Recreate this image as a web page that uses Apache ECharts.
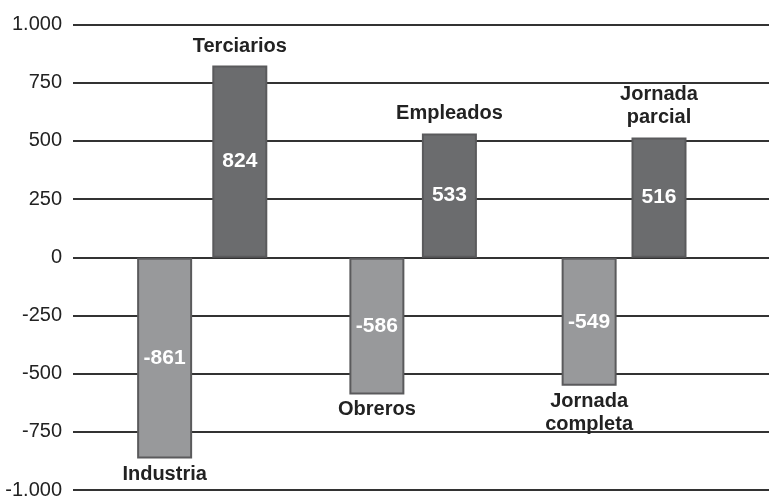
<!DOCTYPE html>
<html>
<head>
<meta charset="utf-8">
<script src="https://cdn.jsdelivr.net/npm/echarts@6/dist/echarts.min.js"></script>
<style>
  html, body { margin: 0; padding: 0; background: #fff; }
  #chart { width: 769px; height: 500px; }
</style>
</head>
<body>
<div id="chart"></div>
<script>
// losses (left bar of each pair) and gains (right bar)
const negNames = ['Industria', 'Obreros', 'Jornada\ncompleta'];
const negValues = [-861, -586, -549];
const posNames = ['Terciarios', 'Empleados', 'Jornada\nparcial'];
const posValues = [824, 533, 516];
const yMin = -1000;
const yMax = 1000;
const yStep = 250;

const font = "'Liberation Sans Narrow', 'Arial Narrow', 'Liberation Sans', Arial, sans-serif";

function fmt(v) {
  const s = String(Math.abs(v)).replace(/\B(?=(\d{3})+(?!\d))/g, '.');
  return (v < 0 ? '-' : '') + s;
}

const hiddenY = i => ({
  type: 'value', gridIndex: i, min: yMin, max: yMax, interval: yStep, show: false
});
const hiddenX = (i, data) => ({
  type: 'category', gridIndex: i, data: data, show: false
});

const chart = echarts.init(document.getElementById('chart'));
chart.setOption({
  animation: false,
  grid: [
    {left: 73, right: 0, top: 24.5, bottom: 9},
    {left: 58.5, right: 73.75, top: 24.5, bottom: 9},
    {left: 135, right: 5.2, top: 24.5, bottom: 9}
  ],
  xAxis: [
    hiddenX(0, ['']),
    hiddenX(1, negNames),
    hiddenX(2, posNames)
  ],
  yAxis: [
    {
      type: 'value', gridIndex: 0, min: yMin, max: yMax, interval: yStep,
      axisLine: {show: false},
      axisTick: {show: false},
      axisLabel: {
        margin: 11, color: '#222', fontSize: 20, fontFamily: font,
        formatter: fmt
      },
      splitLine: {lineStyle: {color: '#333', width: 2}}
    },
    hiddenY(1),
    hiddenY(2)
  ],
  series: [
    {
      type: 'bar', xAxisIndex: 1, yAxisIndex: 1, data: negValues,
      barWidth: 55, barGap: '-100%',
      itemStyle: {color: '#98999b', borderColor: '#5a5a5c', borderWidth: 2},
      label: {
        show: true, position: 'inside', color: '#fff', fontSize: 21,
        fontWeight: 'bold', fontFamily: font, formatter: p => fmt(p.value)
      }
    },
    {
      type: 'bar', xAxisIndex: 1, yAxisIndex: 1, data: negValues,
      barWidth: 55, barGap: '-100%', silent: true,
      itemStyle: {color: 'rgba(0,0,0,0)'},
      label: {
        show: true, position: 'bottom', distance: 4, color: '#222', fontSize: 20,
        lineHeight: 23, fontWeight: 'bold', fontFamily: font, formatter: '{b}'
      }
    },
    {
      type: 'bar', xAxisIndex: 2, yAxisIndex: 2, data: posValues,
      barWidth: 55, barGap: '-100%',
      itemStyle: {color: '#6b6c6e', borderColor: '#5a5a5c', borderWidth: 2},
      label: {
        show: true, position: 'inside', color: '#fff', fontSize: 21,
        fontWeight: 'bold', fontFamily: font, formatter: p => fmt(p.value)
      }
    },
    {
      type: 'bar', xAxisIndex: 2, yAxisIndex: 2, data: posValues,
      barWidth: 55, barGap: '-100%', silent: true,
      itemStyle: {color: 'rgba(0,0,0,0)'},
      label: {
        show: true, position: 'top', distance: 8, color: '#222', fontSize: 20,
        lineHeight: 23, fontWeight: 'bold', fontFamily: font, formatter: '{b}'
      }
    }
  ]
});
</script>
</body>
</html>
